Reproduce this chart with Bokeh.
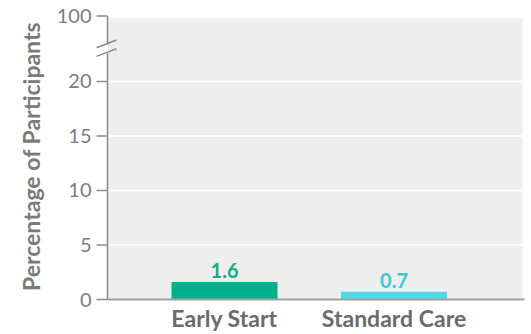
from bokeh.plotting import figure
from bokeh.models import FixedTicker
from bokeh.core.properties import value
from bokeh.embed import file_html
from bokeh.resources import INLINE

# Data
groups = ["Early Start", "Standard Care"]
percentages = [1.6, 0.7]
bar_colors = ["#00b08b", "#50d8e4"]
label_colors = ["#18aa8c", "#3cc6d6"]
y_ticks = [0, 5, 10, 15, 20]
top_tick_label = "100"

FONT = "Lato"

# Layout helpers: the x scale is 169.5 px per category step, the y scale is
# 10.9 px per percentage point below the break; the "100" tick sits on top.
X_START, X_END = 0.2212, 2.7817
Y_START, Y_END = -0.275, 26.51
TOP_POS = 26.0          # position used for the "100" tick above the break
BG_TOP = 25.8
AXIS_X = 0.3097         # vertical axis line
TICK_X0 = 0.2448        # outer end of tick marks
BG_LEFT = 0.3156
BG_RIGHT = 2.758
XAXIS_RIGHT = 2.770
BREAK_LO, BREAK_HI = 22.6, 23.4

xs = [i + 1 for i in range(len(groups))]

p = figure(width=531, height=334, output_backend="svg", toolbar_location=None,
           x_range=(X_START, X_END), y_range=(Y_START, Y_END),
           min_border_left=92, min_border_right=5, min_border_top=10,
           min_border_bottom=32)
p.outline_line_color = None
p.background_fill_color = "white"
p.border_fill_color = "white"
p.xgrid.visible = False
p.ygrid.visible = False

# gray plotting panel
p.quad(left=BG_LEFT, right=BG_RIGHT, bottom=0, top=BG_TOP,
       fill_color="#eeeeee", line_color=None)

# white gridlines
p.segment(x0=[AXIS_X] * len(y_ticks[1:]), x1=[BG_RIGHT] * len(y_ticks[1:]),
          y0=y_ticks[1:], y1=y_ticks[1:], line_color="white", line_width=1.6)

# bars
p.vbar(x=xs, top=percentages, bottom=0, width=0.625, fill_color=bar_colors,
       line_color=None)

# value labels
p.text(x=xs, y=percentages, text=[f"{v:.1f}" for v in percentages],
       text_color=label_colors, text_font=value(FONT), text_font_style="bold",
       text_font_size="20px", text_align="center", text_baseline="bottom",
       y_offset=-4)

# x axis baseline
p.segment(x0=[AXIS_X], x1=[XAXIS_RIGHT], y0=[0], y1=[0],
          line_color="#a0a0a0", line_width=2)

# broken y axis line
axis_gray = "#8c8c8c"
p.segment(x0=[AXIS_X, AXIS_X], x1=[AXIS_X, AXIS_X],
          y0=[0, BREAK_HI], y1=[BREAK_LO, TOP_POS],
          line_color=axis_gray, line_width=1.6)

# tick marks
tick_pos = y_ticks + [TOP_POS]
p.segment(x0=[TICK_X0] * len(tick_pos), x1=[AXIS_X] * len(tick_pos),
          y0=tick_pos, y1=tick_pos, line_color=axis_gray, line_width=1.4)

# break marks
bx0, bx1 = 0.2448, 0.3628
p.segment(x0=[bx0, bx0], x1=[bx1, bx1],
          y0=[BREAK_HI - 0.3, BREAK_LO - 0.3], y1=[BREAK_HI + 0.4, BREAK_LO + 0.4],
          line_color=axis_gray, line_width=1.5)

# y axis: labels only
ya = p.yaxis[0]
ya.ticker = FixedTicker(ticks=tick_pos)
ya.major_label_overrides = {TOP_POS: top_tick_label}
ya.axis_line_color = None
ya.major_tick_line_color = None
ya.minor_tick_line_color = None
ya.major_tick_out = 0
ya.major_tick_in = 0
ya.major_label_standoff = 1
ya.major_label_text_font = FONT
ya.major_label_text_font_size = "20px"
ya.major_label_text_color = "#7d7d7d"
ya.axis_label = "Percentage of Participants"
ya.axis_label_text_font = FONT
ya.axis_label_text_font_style = "bold"
ya.axis_label_text_font_size = "23px"
ya.axis_label_text_color = "#7a7a7a"
ya.axis_label_standoff = 9

# x axis: category labels only
xa = p.xaxis[0]
xa.ticker = FixedTicker(ticks=xs)
xa.major_label_overrides = {x: g for x, g in zip(xs, groups)}
xa.axis_line_color = None
xa.major_tick_line_color = None
xa.minor_tick_line_color = None
xa.major_tick_out = 0
xa.major_tick_in = 0
xa.major_label_standoff = 1
xa.major_label_text_font = FONT
xa.major_label_text_font_style = "bold"
xa.major_label_text_font_size = "23px"
xa.major_label_text_color = "#6b6b6b"

open("out.html", "w").write(file_html(p, INLINE))
